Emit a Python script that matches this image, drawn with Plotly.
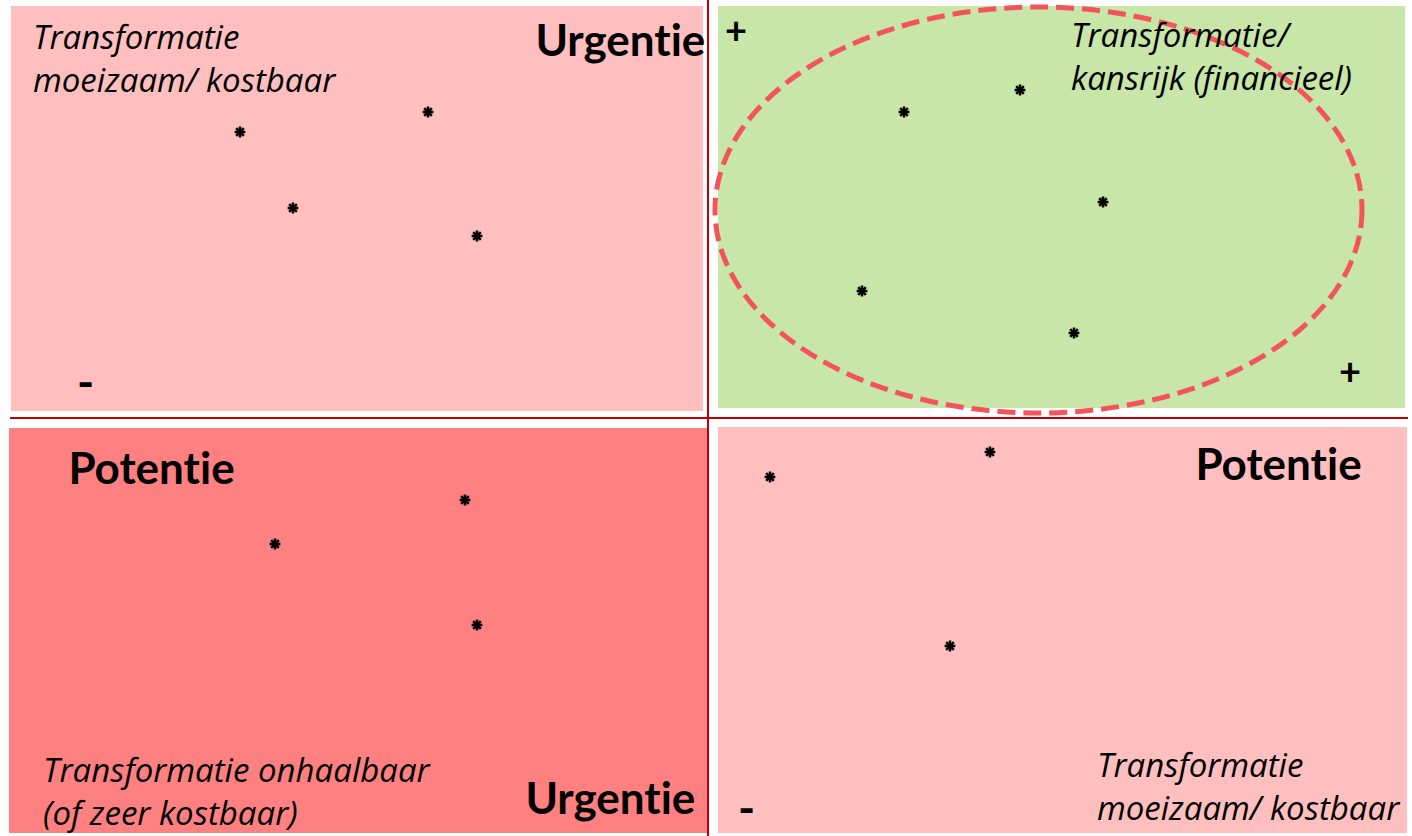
import plotly.graph_objects as go

W, H = 1412, 836

# Quadrant panels (pixel-like coordinate system of the slide)
panel_names = ["top-left", "top-right", "bottom-left", "bottom-right"]
panel_x0 = [11, 718, 9, 718]
panel_x1 = [703, 1405, 707, 1407]
panel_y0 = [6, 6, 428, 427]
panel_y1 = [411, 408, 833, 833]
panel_colors = ["#FFBFBF", "#C7E6A8", "#FF8080", "#FFBFBF"]

# Points (asterisks) per quadrant
tl_x = [240, 428, 293, 477]
tl_y = [132, 112, 208, 236]
tr_x = [904, 1020, 1103, 862, 1074]
tr_y = [112, 90, 202, 291, 333]
bl_x = [465, 275, 477]
bl_y = [500, 544, 625]
br_x = [770, 990, 950]
br_y = [477, 452, 646]

# Italic labels
it_text = ["Transformatie<br>moeizaam/ kostbaar",
           "Transformatie/<br>kansrijk (financieel)",
           "Transformatie onhaalbaar<br>(of zeer kostbaar)",
           "Transformatie<br>moeizaam/ kostbaar"]
it_x = [31, 1069, 41, 1095]
it_y = [58, 56, 791, 786]

# Bold labels
b_text = ["Urgentie", "Potentie", "Potentie", "Urgentie", "+", "+", "-", "-"]
b_x = [620, 151, 1278, 610, 736, 1350, 85, 746]
b_y = [39, 467, 463, 797, 29, 370, 381, 807]
b_size = [44, 44, 44, 44, 38, 38, 46, 46]

fig = go.Figure()

shapes = []
for x0, x1, y0, y1, c in zip(panel_x0, panel_x1, panel_y0, panel_y1, panel_colors):
    shapes.append(dict(type="rect", x0=x0, x1=x1, y0=y0, y1=y1,
                       fillcolor=c, line=dict(width=0), layer="below"))
# divider lines
shapes.append(dict(type="line", x0=10, x1=1408, y0=418, y1=418,
                   line=dict(color="#C00000", width=2)))
shapes.append(dict(type="line", x0=708, x1=708, y0=0, y1=836,
                   line=dict(color="#C00000", width=2)))
# dashed ellipse
shapes.append(dict(type="circle", x0=715, x1=1362, y0=7, y1=413,
                   line=dict(color="#F4535C", width=5, dash="18px,8px")))

all_x = tl_x + tr_x + bl_x + br_x
all_y = tl_y + tr_y + bl_y + br_y
fig.add_trace(go.Scatter(x=all_x, y=all_y, mode="markers",
                         marker=dict(symbol="asterisk-open", size=9,
                                     color="black",
                                     line=dict(color="black", width=2.5)),
                         hoverinfo="skip", showlegend=False))

annotations = []
for t, x, y in zip(it_text, it_x, it_y):
    annotations.append(dict(text=t, x=x, y=y, xref="x", yref="y",
                            xanchor="left", yanchor="middle", align="left",
                            showarrow=False,
                            font=dict(family="Open Sans", size=33, color="black",
                                      style="italic")))
for t, x, y, s in zip(b_text, b_x, b_y, b_size):
    annotations.append(dict(text=t, x=x, y=y, xref="x", yref="y",
                            xanchor="center", yanchor="middle",
                            showarrow=False,
                            font=dict(family="Lato", size=s, color="black",
                                      weight="bold")))

fig.update_layout(width=W, height=H, margin=dict(l=0, r=0, t=0, b=0),
                  paper_bgcolor="white", plot_bgcolor="white",
                  shapes=shapes, annotations=annotations,
                  xaxis=dict(range=[0, W], visible=False, fixedrange=True),
                  yaxis=dict(range=[H, 0], visible=False, fixedrange=True))

post = ("document.body.style.margin='0';"
        "document.querySelectorAll('text').forEach(function(t){"
        "t.style.fontVariantLigatures='none';});")
fig.write_html("out.html", post_script=post, config={"displayModeBar": False})
